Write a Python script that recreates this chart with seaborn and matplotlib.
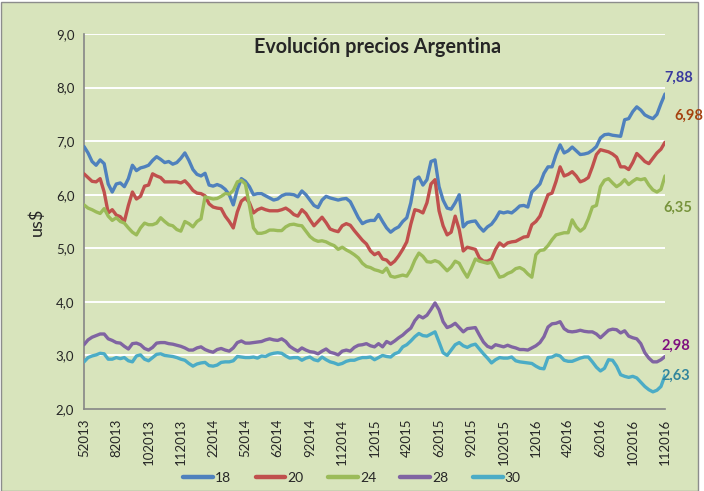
import matplotlib
matplotlib.use("Agg")
import matplotlib.pyplot as plt
from matplotlib.patches import Rectangle
from matplotlib.lines import Line2D
import numpy as np
import pandas as pd
import seaborn as sns

# ---------------- data ----------------
tick_labels = ["52013", "82013", "102013", "112013", "22014", "52014", "62014",
               "92014", "112014", "12015", "42015", "62015", "92015", "102015",
               "12016", "42016", "62016", "102016", "112016"]
series_names = ["18", "20", "24", "28", "30"]

s18 = [6.90, 6.78, 6.62, 6.55, 6.65, 6.58, 6.20, 6.05, 6.20, 6.22,
       6.15, 6.30, 6.55, 6.45, 6.50, 6.52, 6.55, 6.64, 6.71, 6.66,
       6.60, 6.62, 6.57, 6.60, 6.68, 6.78, 6.64, 6.47, 6.38, 6.35,
       6.40, 6.18, 6.16, 6.19, 6.16, 6.10, 6.00, 5.81, 6.10, 6.30,
       6.25, 6.15, 6.00, 6.02, 6.02, 5.98, 5.94, 5.90, 5.92, 5.98,
       6.01, 6.01, 6.00, 5.96, 6.07, 6.00, 5.90, 5.80, 5.76, 5.90,
       5.97, 5.94, 5.92, 5.90, 5.92, 5.93, 5.87, 5.72, 5.57, 5.46,
       5.50, 5.52, 5.52, 5.63, 5.50, 5.38, 5.30, 5.36, 5.40, 5.50,
       5.57, 5.85, 6.28, 6.33, 6.18, 6.28, 6.62, 6.65, 6.15, 5.90,
       5.75, 5.73, 5.85, 6.00, 5.40, 5.48, 5.50, 5.51, 5.40, 5.32,
       5.40, 5.45, 5.55, 5.68, 5.66, 5.68, 5.66, 5.72, 5.79, 5.80,
       5.77, 6.05, 6.12, 6.20, 6.40, 6.52, 6.52, 6.75, 6.93, 6.78,
       6.82, 6.89, 6.82, 6.75, 6.76, 6.78, 6.83, 6.90, 7.06, 7.12,
       7.13, 7.11, 7.10, 7.09, 7.40, 7.42, 7.55, 7.64, 7.58, 7.49,
       7.45, 7.42, 7.50, 7.70, 7.88]

s20 = [6.39, 6.32, 6.25, 6.24, 6.30, 6.05, 5.66, 5.72, 5.62, 5.59,
       5.50, 5.80, 6.05, 5.92, 5.97, 6.16, 6.18, 6.39, 6.35, 6.32,
       6.24, 6.24, 6.24, 6.24, 6.22, 6.26, 6.18, 6.08, 6.03, 6.02,
       5.98, 5.83, 5.77, 5.75, 5.74, 5.60, 5.50, 5.38, 5.68, 5.88,
       5.94, 5.85, 5.66, 5.72, 5.75, 5.72, 5.70, 5.70, 5.70, 5.72,
       5.75, 5.70, 5.63, 5.60, 5.72, 5.65, 5.53, 5.42, 5.50, 5.58,
       5.48, 5.36, 5.33, 5.31, 5.42, 5.46, 5.43, 5.33, 5.24, 5.15,
       5.08, 4.95, 4.88, 4.92, 4.80, 4.78, 4.70, 4.76, 4.86, 4.98,
       5.12, 5.45, 5.72, 5.70, 5.66, 5.85, 6.20, 6.28, 5.70, 5.42,
       5.25, 5.30, 5.60, 5.35, 4.95, 5.02, 5.00, 4.98, 4.82, 4.76,
       4.76, 4.80, 4.98, 5.10, 5.04, 5.10, 5.12, 5.13, 5.17, 5.21,
       5.22, 5.44, 5.50, 5.60, 5.80, 6.00, 6.03, 6.25, 6.52, 6.35,
       6.38, 6.43, 6.35, 6.24, 6.27, 6.32, 6.52, 6.75, 6.84, 6.82,
       6.80, 6.76, 6.70, 6.52, 6.52, 6.47, 6.60, 6.77, 6.70, 6.62,
       6.58, 6.68, 6.78, 6.85, 6.98]

s24 = [5.81, 5.75, 5.72, 5.68, 5.65, 5.74, 5.60, 5.52, 5.57, 5.50,
       5.47, 5.38, 5.30, 5.25, 5.38, 5.47, 5.44, 5.44, 5.47, 5.57,
       5.50, 5.44, 5.42, 5.35, 5.32, 5.50, 5.46, 5.40, 5.50, 5.55,
       5.96, 5.94, 5.92, 5.93, 5.97, 6.02, 6.01, 6.08, 6.24, 6.27,
       6.20, 5.80, 5.38, 5.28, 5.28, 5.30, 5.34, 5.34, 5.33, 5.33,
       5.40, 5.44, 5.45, 5.43, 5.42, 5.32, 5.22, 5.16, 5.13, 5.14,
       5.12, 5.08, 5.05, 4.98, 5.02, 4.97, 4.93, 4.88, 4.82, 4.72,
       4.66, 4.64, 4.60, 4.58, 4.55, 4.63, 4.48, 4.46, 4.48, 4.50,
       4.48, 4.60, 4.78, 4.91, 4.85, 4.75, 4.74, 4.77, 4.74, 4.66,
       4.58, 4.65, 4.76, 4.72, 4.58, 4.46, 4.62, 4.80, 4.76, 4.74,
       4.72, 4.74, 4.60, 4.46, 4.48, 4.53, 4.56, 4.62, 4.64, 4.60,
       4.52, 4.46, 4.88, 4.96, 4.97, 5.05, 5.16, 5.25, 5.27, 5.29,
       5.29, 5.53, 5.40, 5.32, 5.38, 5.55, 5.77, 5.80, 6.15, 6.27,
       6.30, 6.22, 6.15, 6.20, 6.28, 6.19, 6.25, 6.30, 6.28, 6.30,
       6.18, 6.09, 6.05, 6.10, 6.35]

s28 = [3.20, 3.29, 3.34, 3.37, 3.40, 3.40, 3.31, 3.28, 3.24, 3.23,
       3.17, 3.12, 3.22, 3.23, 3.20, 3.13, 3.10, 3.15, 3.23, 3.24,
       3.24, 3.22, 3.21, 3.19, 3.17, 3.14, 3.10, 3.10, 3.14, 3.16,
       3.11, 3.08, 3.06, 3.11, 3.13, 3.10, 3.08, 3.14, 3.24, 3.27,
       3.23, 3.23, 3.24, 3.25, 3.26, 3.29, 3.31, 3.29, 3.28, 3.31,
       3.26, 3.17, 3.12, 3.08, 3.14, 3.10, 3.07, 3.06, 3.03, 3.08,
       3.12, 3.06, 3.04, 3.01, 3.08, 3.10, 3.08, 3.15, 3.19, 3.20,
       3.22, 3.18, 3.16, 3.22, 3.16, 3.26, 3.22, 3.27, 3.33, 3.38,
       3.45, 3.51, 3.65, 3.74, 3.70, 3.75, 3.86, 3.98, 3.85, 3.63,
       3.52, 3.55, 3.60, 3.52, 3.44, 3.50, 3.51, 3.52, 3.38, 3.25,
       3.17, 3.14, 3.20, 3.18, 3.16, 3.19, 3.16, 3.14, 3.11, 3.11,
       3.10, 3.14, 3.18, 3.24, 3.35, 3.53, 3.59, 3.60, 3.63, 3.50,
       3.45, 3.44, 3.45, 3.47, 3.45, 3.44, 3.44, 3.40, 3.33, 3.40,
       3.47, 3.49, 3.48, 3.42, 3.46, 3.36, 3.33, 3.31, 3.22, 3.05,
       2.95, 2.88, 2.88, 2.92, 2.98]

s30 = [2.88, 2.96, 2.99, 3.01, 3.04, 3.03, 2.93, 2.93, 2.96, 2.94,
       2.96, 2.90, 2.88, 2.99, 3.01, 2.93, 2.90, 2.96, 3.02, 3.03,
       3.00, 2.99, 2.98, 2.96, 2.93, 2.91, 2.85, 2.80, 2.84, 2.86,
       2.87, 2.81, 2.80, 2.82, 2.87, 2.88, 2.88, 2.90, 2.98, 2.97,
       2.96, 2.96, 2.97, 2.95, 2.99, 2.98, 3.02, 3.04, 3.05, 3.04,
       2.99, 2.95, 2.96, 2.96, 2.91, 2.95, 2.97, 2.92, 2.90, 2.97,
       2.92, 2.88, 2.86, 2.83, 2.85, 2.89, 2.91, 2.91, 2.94, 2.96,
       2.96, 2.97, 2.92, 2.96, 3.00, 2.98, 2.97, 3.03, 3.06, 3.16,
       3.20, 3.27, 3.35, 3.41, 3.37, 3.36, 3.40, 3.44, 3.25, 3.05,
       3.00, 3.10, 3.20, 3.24, 3.18, 3.15, 3.19, 3.21, 3.12, 3.03,
       2.95, 2.86, 2.92, 2.96, 2.95, 2.95, 2.97, 2.90, 2.88, 2.87,
       2.86, 2.85, 2.80, 2.76, 2.75, 2.96, 2.97, 3.01, 2.99, 2.91,
       2.89, 2.89, 2.92, 2.95, 2.97, 2.97, 2.88, 2.78, 2.71, 2.76,
       2.92, 2.91, 2.80, 2.64, 2.61, 2.59, 2.61, 2.58, 2.50, 2.42,
       2.36, 2.32, 2.35, 2.42, 2.63]

values = {"18": s18, "20": s20, "24": s24, "28": s28, "30": s30}

# ---------------- style ----------------
bg = "#D8E4BC"
colors = {"18": "#4F81BD", "20": "#C0504D", "24": "#9BBB59",
          "28": "#8064A2", "30": "#4BACC6"}
label_colors = {"18": "#3A3A9E", "20": "#A5420F", "24": "#77933C",
                "28": "#7F0F7F", "30": "#31859C"}
# offsets (points) of end labels from last point
label_offsets = {"18": (10, 12), "20": (17, 19), "24": (9, -23),
                 "28": (8, 7.5), "30": (8, -0.5)}

sns.set_style("white")
plt.rcParams["font.family"] = ["Lato", "DejaVu Sans"]

df = pd.concat([pd.DataFrame({"x": np.arange(len(v)), "valor": v, "serie": k})
                for k, v in values.items()], ignore_index=True)

fig = plt.figure(figsize=(7.04, 4.91), dpi=100)
fig.patch.set_facecolor("white")
fig.patches.append(Rectangle((0.5 / 704, 0.5 / 491), 697.5 / 704, 489 / 491,
                             transform=fig.transFigure, facecolor=bg,
                             edgecolor="#8C8C8C", linewidth=1.0, zorder=-10))

ax = fig.add_axes([84 / 704, 1 - 409 / 491, (665 - 84) / 704, (409 - 34) / 491])
ax.set_facecolor(bg)

sns.lineplot(data=df, x="x", y="valor", hue="serie", palette=colors,
             hue_order=series_names, linewidth=2.4, legend=False, ax=ax,
             zorder=3)
for ln in ax.get_lines():
    ln.set_solid_joinstyle("round")
    ln.set_solid_capstyle("round")

n = len(s18)
ax.set_xlim(0, n - 1)
ax.set_ylim(2, 9)
ax.set_yticks(np.arange(2, 9.01, 1.0))
ax.set_yticklabels([f"{v:.1f}".replace(".", ",") for v in np.arange(2, 9.01, 1.0)],
                   fontsize=9.5)
ax.set_xticks(np.arange(0, n, 8))
ax.set_xticklabels(tick_labels, rotation=90, fontsize=9.5)
ax.set_xticks(np.arange(0, n, 2), minor=True)
ax.tick_params(axis="x", which="both", direction="out", length=4, width=0.8,
               color="#868686", pad=3)
ax.tick_params(axis="y", direction="out", length=4, width=0.8,
               color="#868686", pad=3)
for y in range(3, 10):
    ax.axhline(y, color="white", linewidth=1.4, zorder=1)
for side in ["top", "right"]:
    ax.spines[side].set_visible(False)
for side in ["left", "bottom"]:
    ax.spines[side].set_color("#868686")
    ax.spines[side].set_linewidth(1.2)
ax.set_xlabel("")
ax.set_ylabel("us$", fontsize=13, labelpad=8)

fig.text(378 / 704, 1 - 47 / 491, "Evolución precios Argentina",
         ha="center", va="center", fontsize=14.2, fontweight="bold")

for k in series_names:
    v = values[k]
    ax.annotate(f"{v[-1]:.2f}".replace(".", ","), xy=(n - 1, v[-1]),
                xytext=label_offsets[k], textcoords="offset points",
                ha="center", va="center", fontsize=10.5, fontweight="bold",
                color=label_colors[k], annotation_clip=False, zorder=5)

handles = [Line2D([0], [0], color=colors[k], linewidth=3.2) for k in series_names]
leg = fig.legend(handles, series_names, loc="center", ncol=5,
                 bbox_to_anchor=(352 / 704, 1 - 478 / 491), frameon=False,
                 fontsize=10, handlelength=2.15, handletextpad=0.15,
                 columnspacing=1.75)

fig.savefig("out.png", dpi=100, facecolor=fig.get_facecolor())
